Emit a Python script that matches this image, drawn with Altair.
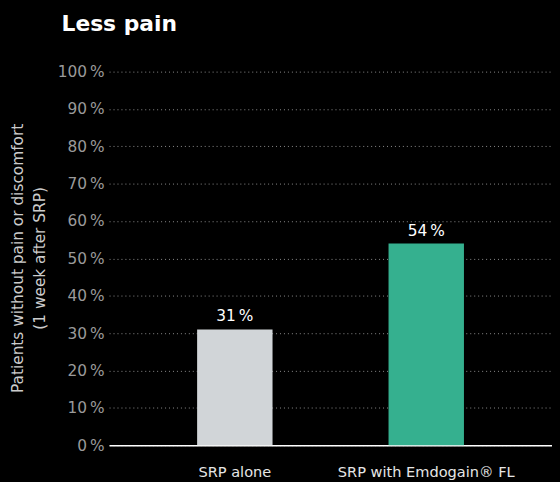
import altair as alt
import pandas as pd
import jinja2

categories = ["SRP alone", "SRP with Emdogain® FL"]
values = [31, 54]
colors = ["#d1d5d8", "#35b08f"]

df = pd.DataFrame({"cat": categories, "val": values, "color": colors})
df["label"] = df["val"].astype(str) + "\u2009%"

FONT = "DejaVu Sans"
FS = 15.5

base = alt.Chart(df).encode(
    x=alt.X("cat:N", sort=categories,
            scale=alt.Scale(paddingInner=0.606, paddingOuter=0.46),
            axis=alt.Axis(title=None, labelAngle=0, labelFontSize=14.7, labelColor="#e6e6e6",
                          labelFont=FONT, labelPadding=20, labelLimit=0, ticks=False, domain=True,
                          domainColor="#ffffff", domainWidth=1.5, grid=False)),
    y=alt.Y("val:Q", scale=alt.Scale(domain=[0, 100]),
            axis=alt.Axis(values=list(range(0, 101, 10)),
                          labelExpr="datum.value + '\u2009%'",
                          labelFontSize=FS, labelColor="#9a9a9a", labelFont=FONT,
                          labelPadding=5, ticks=False, domain=False,
                          grid=True, gridColor="#8c8c8c", gridDash=[1, 3], gridWidth=1,
                          title=["Patients without pain or discomfort", "(1 week after SRP)"],
                          titleFont=FONT, titleFontSize=FS, titleFontWeight="normal",
                          titleColor="#cccccc", titleAngle=-90, titleX=-99, titleY=188,
                          titleAlign="center", titleBaseline="top", titleLineHeight=22)),
)

bars = base.mark_bar().encode(color=alt.Color("color:N", scale=None))
text = base.mark_text(dy=-13, fontSize=FS, font=FONT, color="#ffffff").encode(text="label:N")

chart = (bars + text).properties(
    width=447, height=377,
    background="#000000",
    padding={"left": 102, "top": 62, "right": 0, "bottom": 40},
    autosize=alt.AutoSizeParams(type="none"),
    title=alt.TitleParams("Less pain", anchor="start", frame="group", dx=-48, offset=29,
                          fontSize=22, font=FONT, fontWeight="bold", color="#ffffff"),
).configure_view(stroke=None)

TEMPLATE = jinja2.Template("""<!DOCTYPE html>
<html>
<head>
  <meta charset="utf-8">
  <style>
    html, body { background: #000000; overflow: hidden; }
    #{{ output_div }}.vega-embed { width: 100%; display: flex; }
  </style>
  <script type="text/javascript" src="{{ base_url }}/vega@{{ vega_version }}"></script>
  <script type="text/javascript" src="{{ base_url }}/vega-lite@{{ vegalite_version }}"></script>
  <script type="text/javascript" src="{{ base_url }}/vega-embed@{{ vegaembed_version }}"></script>
</head>
<body>
  <div id="{{ output_div }}"></div>
  <script>
    (function(vegaEmbed) {
      var spec = {{ spec }};
      var embedOpt = {{ embed_options }};
      const el = document.getElementById('{{ output_div }}');
      vegaEmbed("#{{ output_div }}", spec, embedOpt).catch(function(error) {
        el.innerHTML = '<div style="color:red;">' + error.message + '</div>';
      });
    })(vegaEmbed);
  </script>
</body>
</html>
""")

chart.save("out.html", embed_options={"renderer": "svg", "actions": False}, template=TEMPLATE)
